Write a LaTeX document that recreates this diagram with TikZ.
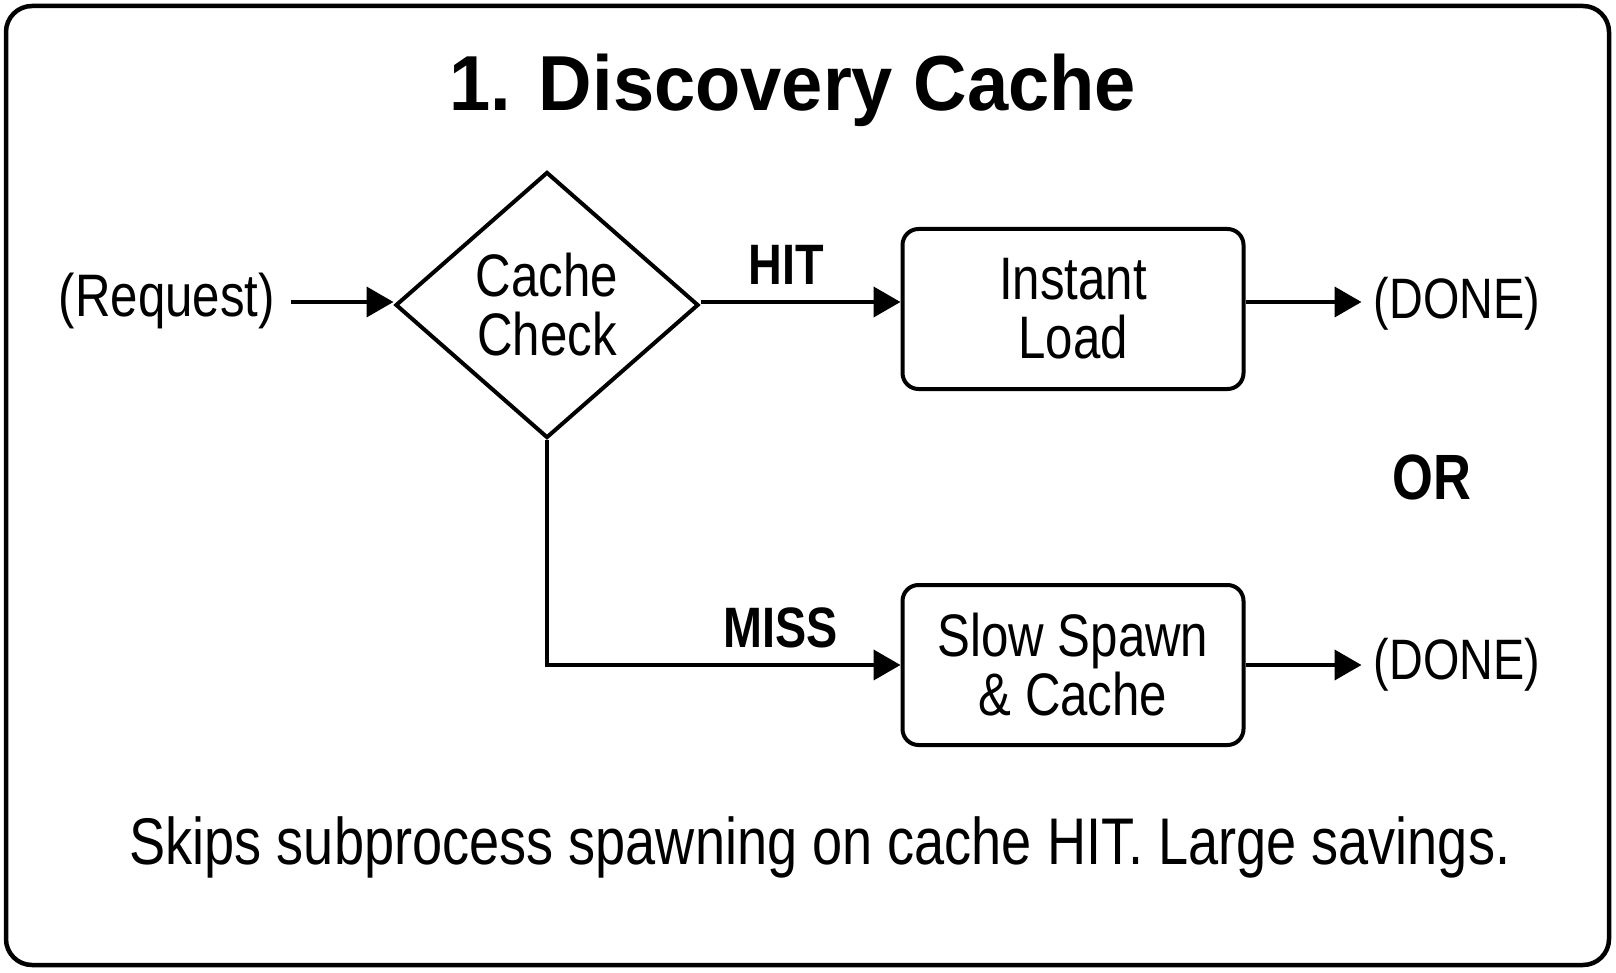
\documentclass[tikz,border=0pt]{standalone}
\usepackage{fontspec}
\setmainfont{Liberation Sans}[FakeStretch=0.82]
\newfontfamily\titlefont{Liberation Sans}[FakeStretch=0.95]
\usetikzlibrary{arrows.meta,shapes.geometric}
\tikzset{
  lw/.style={line width=4pt},
  nodetext/.style={font=\fontsize{60}{59}\selectfont, align=center},
  procbox/.style={draw, lw, rounded corners=16pt, minimum width=341pt, minimum height=160pt, inner sep=0pt, nodetext},
  decision/.style={draw, lw, diamond, minimum width=303pt, minimum height=266pt, inner sep=0pt, nodetext},
  edgelabel/.style={font=\fontsize{57}{57}\selectfont\bfseries},
  arr/.style={lw, -{Triangle[length=27pt,width=30pt]}},
  plain/.style={nodetext, inner sep=0pt}
}
\begin{document}
\begin{tikzpicture}[x=1pt,y=-1pt]
  \useasboundingbox (0,0) rectangle (1616,973);
  \draw[line width=4.5pt, rounded corners=26pt] (6,6) rectangle (1609,965);
  \node (title) at (793,90) {\titlefont\bfseries\fontsize{78}{78}\selectfont 1. Discovery Cache};
  \node[plain] (req) at (167,301) {(Request)};
  \node[decision] (chk) at (547,305) {Cache\\Check};
  \node[procbox] (inst) at (1073,309) {Instant\\Load};
  \node[procbox] (slow) at (1073,665) {Slow Spawn\\\& Cache};
  \node[plain, font=\fontsize{57}{57}\selectfont] (done1) at (1457,304) {(DONE)};
  \node[plain, font=\fontsize{57}{57}\selectfont] (done2) at (1457,665) {(DONE)};
  \node[font=\fontsize{64}{64}\selectfont\bfseries] (or) at (1432,477) {OR};
  \coordinate (reqE) at (291,302);
  \coordinate (corner) at (chk.south |- slow.west);
  \draw[arr] (reqE) -- (chk.west |- reqE);
  \draw[arr] (chk.east |- reqE) -- (inst.west |- reqE) node[pos=0.43, above=12pt, edgelabel] (hit) {HIT};
  \draw[arr] (chk.south) -- (corner) -- (slow.west) node[pos=0.66, above=12pt, edgelabel] (miss) {MISS};
  \draw[arr] (inst.east |- reqE) -- ++(116,0) coordinate (d1);
  \draw[arr] (slow.east) -- ++(116,0) coordinate (d2);
  \node[font=\fontsize{66}{66}\selectfont] (note) at (820,847) {Skips subprocess spawning on cache HIT. Large savings.};
\end{tikzpicture}
\end{document}
